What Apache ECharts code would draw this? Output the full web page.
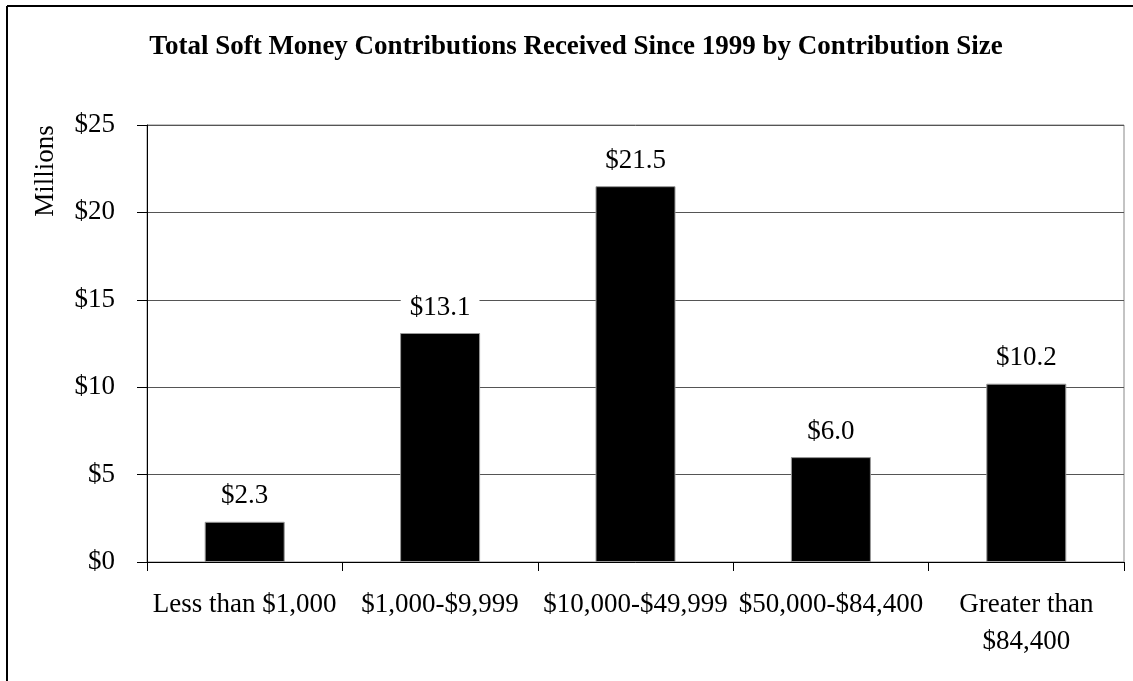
<!DOCTYPE html>
<html>
<head>
<meta charset="utf-8">
<script src="https://cdn.jsdelivr.net/npm/echarts@6/dist/echarts.min.js"></script>
<style>
  html, body { margin: 0; padding: 0; background: #fff; }
  #chart { width: 1133px; height: 681px; }
</style>
</head>
<body>
<div id="chart"></div>
<script>
// Contribution size bands and total soft money received in each (millions of dollars)
const categories = ['Less than $1,000', '$1,000-$9,999', '$10,000-$49,999', '$50,000-$84,400', 'Greater than\n$84,400'];
const totals = [2.3, 13.1, 21.5, 6.0, 10.2];
const yMin = 0;
const yMax = 25;
const yStep = 5;

const FONT = '"Liberation Serif", "DejaVu Serif", serif';

const chart = echarts.init(document.getElementById('chart'), null, { renderer: 'canvas' });

chart.setOption({
  animation: false,
  backgroundColor: '#fff',
  title: {
    text: 'Total Soft Money Contributions Received Since 1999 by Contribution Size',
    left: 571,
    textAlign: 'center',
    top: 29,
    textStyle: { fontFamily: FONT, fontWeight: 'bold', fontSize: 27, color: '#000' }
  },
  grid: {
    left: 147, right: 9, top: 125, bottom: 119,
    show: true, borderColor: '#888', borderWidth: 1, backgroundColor: 'transparent'
  },
  xAxis: {
    type: 'category',
    data: categories,
    boundaryGap: true,
    axisLine: { lineStyle: { color: '#000', width: 1 } },
    axisTick: { show: true, length: 9, lineStyle: { color: '#000' } },
    axisLabel: {
      interval: 0, margin: 24, fontFamily: FONT, fontSize: 27, color: '#000',
      lineHeight: 37, align: 'center'
    },
    splitLine: { show: false }
  },
  yAxis: {
    type: 'value',
    min: yMin, max: yMax, interval: yStep,
    axisLine: { show: true, lineStyle: { color: '#000', width: 1 } },
    axisTick: { show: true, length: 10, lineStyle: { color: '#000' } },
    axisLabel: {
      margin: 32, fontFamily: FONT, fontSize: 27, color: '#000',
      formatter: v => '$' + v
    },
    splitLine: { show: true, lineStyle: { color: '#555', width: 1 } }
  },
  series: [{
    type: 'bar',
    data: totals,
    barWidth: 80,
    itemStyle: { color: '#000', borderColor: '#999', borderWidth: 1 },
    label: {
      show: true,
      position: 'top',
      distance: 6,
      fontFamily: FONT, fontSize: 27, color: '#000',
      backgroundColor: '#fff',
      padding: [6, 9],
      formatter: p => '$' + p.value.toFixed(1)
    }
  }],
  graphic: [
    // frame around the chart (top and left edges)
    { type: 'line', shape: { x1: 7, y1: 6, x2: 1133, y2: 6 }, style: { stroke: '#000', lineWidth: 2 } },
    { type: 'line', shape: { x1: 7, y1: 6, x2: 7, y2: 681 }, style: { stroke: '#000', lineWidth: 2 } },
    // value axis caption
    {
      type: 'text', x: 46, y: 171, rotation: Math.PI / 2,
      style: {
        text: 'Millions', font: '27px ' + FONT, fill: '#000',
        textAlign: 'center', textVerticalAlign: 'middle'
      }
    }
  ]
});
</script>
</body>
</html>
